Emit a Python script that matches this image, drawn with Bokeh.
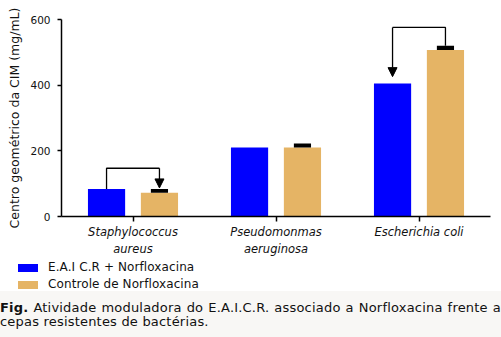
from bokeh.plotting import figure
from bokeh.models import (ColumnDataSource, FixedTicker, Arrow,
                          NormalHead, Div, Range1d, LinearAxis)
from bokeh.layouts import column
from bokeh.embed import file_html
from bokeh.resources import INLINE

categories_line1 = ["Staphylococcus", "Pseudomonmas", "Escherichia coli"]
categories_line2 = ["aureus", "aeruginosa", ""]
combo_values = [84, 210, 405]          # E.A.I C.R + Norfloxacina
control_values = [72, 210, 507]        # Controle de Norfloxacina
control_err = [12, 12, 13]
bracket_top = [147, None, 576]
y_ticks = [0, 200, 400, 600]
series_names = ["E.A.I C.R + Norfloxacina", "Controle de Norfloxacina"]
caption_line1 = "Atividade moduladora do E.A.I.C.R. associado a Norfloxacina frente a"
caption_line2 = "cepas resistentes de bactérias."

BLUE = "#0000FF"
TAN = "#E5B465"
FONT = "DejaVu Sans"
TXT = "#111111"
off = 0.185
bw = 0.26

xc = [i + 0.5 for i in range(len(categories_line1))]
xb = [x - off for x in xc]
xt = [x + off for x in xc]

p = figure(width=501, height=258, output_backend="svg", toolbar_location=None,
           x_range=Range1d(0, 3), y_range=Range1d(0, 600),
           min_border_left=61, min_border_right=11, min_border_top=19, min_border_bottom=39)
p.outline_line_color = None
p.grid.grid_line_color = None

src_b = ColumnDataSource(dict(x=xb, top=combo_values))
src_t = ColumnDataSource(dict(x=xt, top=control_values,
                              lo=control_values,
                              hi=[v + e for v, e in zip(control_values, control_err)]))
p.vbar(x="x", top="top", width=bw, bottom=0, source=src_b, fill_color=BLUE, line_color=None)
p.vbar(x="x", top="top", width=bw, bottom=0, source=src_t, fill_color=TAN, line_color=None)
p.vbar(x="x", top="hi", bottom="lo", width=0.12, source=src_t, fill_color="black", line_color=None)

for i, top in enumerate(bracket_top):
    if top is None:
        continue
    if combo_values[i] < control_values[i]:
        start_x, start_y = xt[i], control_values[i] + control_err[i]
        end_x, end_y = xb[i], combo_values[i] + 21
    else:
        start_x, start_y = xb[i], combo_values[i]
        end_x, end_y = xt[i], control_values[i] + control_err[i] + 3
    p.line([start_x, start_x, end_x, end_x], [start_y, top, top, top], line_color="black", line_width=1.3)
    p.add_layout(Arrow(x_start=end_x, y_start=top, x_end=end_x, y_end=end_y,
                       line_color="black", line_width=1.3,
                       end=NormalHead(size=9, fill_color="black", line_color="black", line_width=1)))

p.xaxis.ticker = FixedTicker(ticks=xc)
p.xaxis.major_label_overrides = {x: c for x, c in zip(xc, categories_line1)}
ax2 = LinearAxis(ticker=FixedTicker(ticks=xc),
                 major_label_overrides={x: c for x, c in zip(xc, categories_line2)},
                 axis_line_color=None, major_tick_line_color=None, minor_tick_line_color=None,
                 major_tick_in=0, major_tick_out=0, major_label_standoff=0)
p.add_layout(ax2, "below")
for ax in (p.xaxis[0], ax2):
    ax.major_label_text_font_style = "italic"
    ax.major_label_text_font = FONT
    ax.major_label_text_font_size = "11.5px"
    ax.major_label_text_color = TXT
p.xaxis[0].minor_tick_line_color = None
p.xaxis[0].major_tick_in = 0
p.xaxis[0].major_tick_out = 5
p.xaxis[0].major_label_standoff = 3

p.yaxis.ticker = FixedTicker(ticks=y_ticks)
p.yaxis.minor_tick_line_color = None
p.yaxis.major_tick_in = 0
p.yaxis.major_tick_out = 4
p.yaxis.major_label_text_font = FONT
p.yaxis.major_label_text_font_size = "10.5px"
p.yaxis.major_label_text_color = TXT
p.yaxis.major_label_standoff = 7
p.yaxis.axis_label = "Centro geométrico da CIM (mg/mL)"
p.yaxis.axis_label_text_font = FONT
p.yaxis.axis_label_text_font_size = "12.5px"
p.yaxis.axis_label_text_font_style = "normal"
p.yaxis.axis_label_text_color = TXT
p.yaxis.axis_label_standoff = 5
p.xaxis[0].axis_line_width = 1.5
p.xaxis[0].major_tick_line_width = 1.5
p.yaxis.axis_line_width = 1.5
p.yaxis.major_tick_line_width = 1.5

# legend (HTML rows with fixed heights)
sw_colors = [BLUE, TAN]
row_margins = [3, 4]
rows = []
for c, name, mt in zip(sw_colors, series_names, row_margins):
    rows.append(
        f'<div style="margin-top:{mt}px;height:13px;line-height:13px;white-space:nowrap;'
        f'padding-left:18px;width:300px">'
        f'<span style="display:inline-block;width:20px;height:8px;background:{c};'
        f'vertical-align:middle;margin-right:10px"></span>'
        f'<span style="vertical-align:middle;font-size:12px;letter-spacing:0.1px">{name}</span></div>')
legend_div = Div(text="".join(rows), width=501, height=33, margin=0,
                 styles={"font-family": "DejaVu Sans", "color": TXT, "width": "501px",
                         "height": "33px"})

words = caption_line1.split(" ")
caption_html = (
    '<div style="display:flex;justify-content:space-between;width:501px">'
    '<b>Fig.</b>' + "".join(f"<span>{w}</span>" for w in words) + '</div>'
    f'<div>{caption_line2}</div>')
caption = Div(text=caption_html, width=501, height=46, margin=0,
              styles={"font-family": "DejaVu Sans", "color": TXT, "width": "501px", "height": "46px",
                      "background-color": "#F8F7F5", "box-sizing": "border-box", "padding-top": "10px",
                      "font-size": "13px", "letter-spacing": "0.2px", "line-height": "14px"})

layout = column(p, legend_div, caption, spacing=0)
open("out.html", "w").write(file_html(layout, INLINE))
